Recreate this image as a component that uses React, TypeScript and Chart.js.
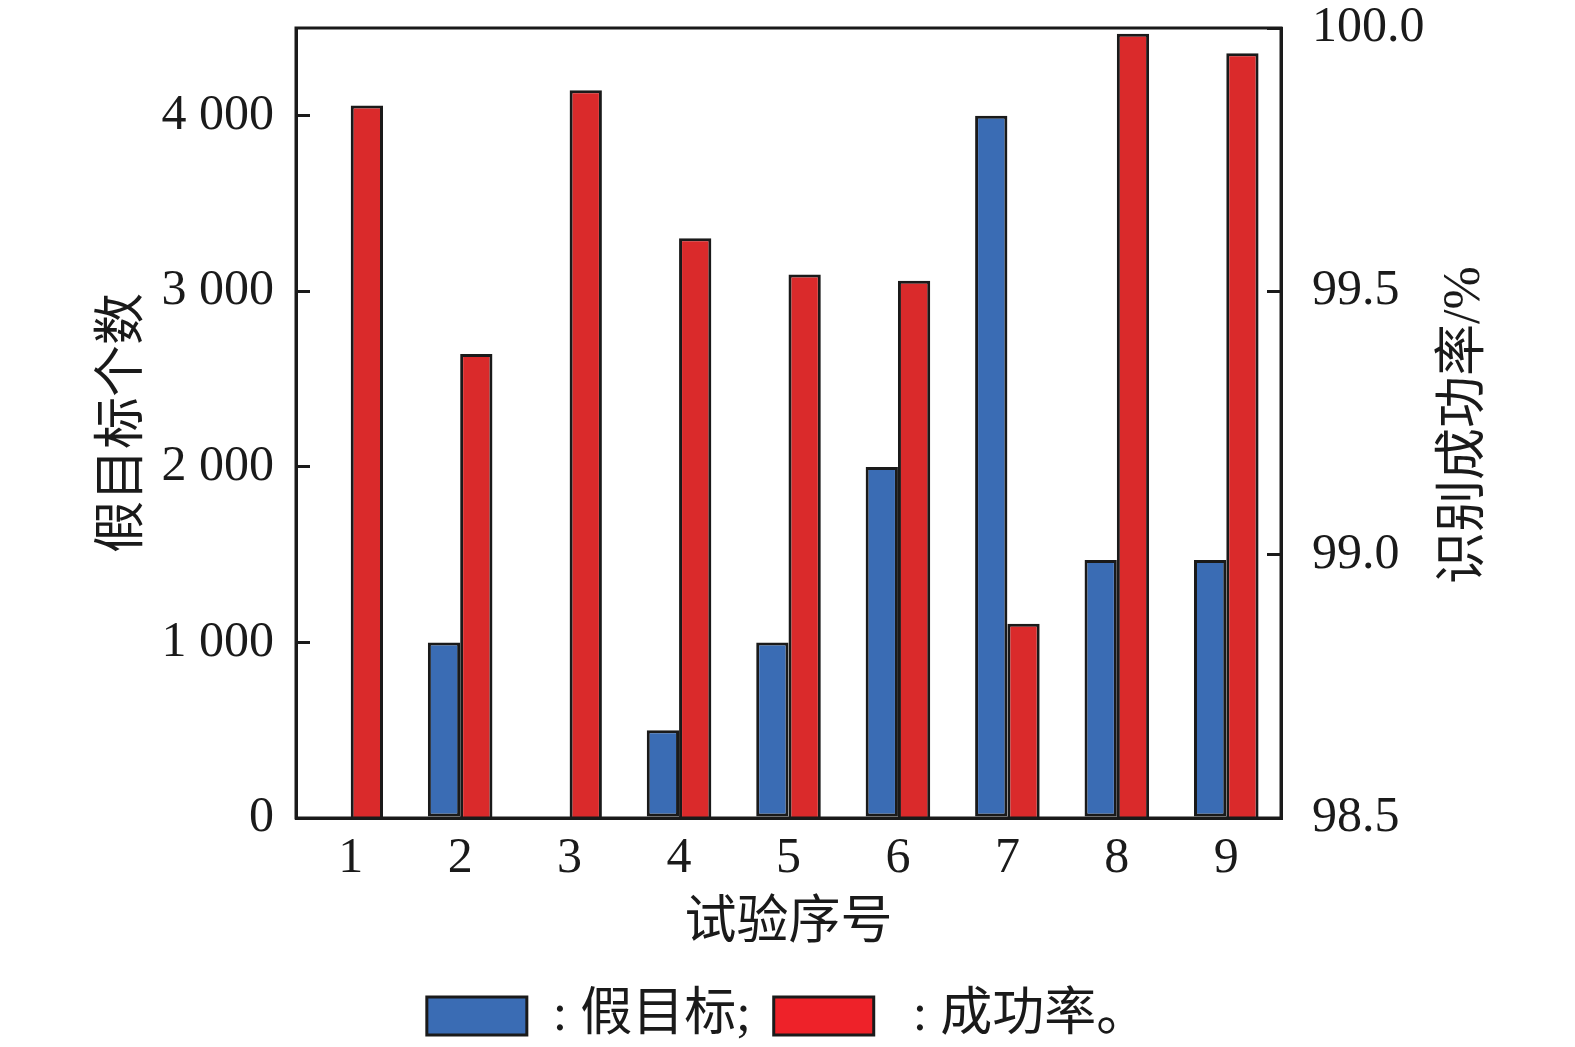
import { useEffect, useRef } from "react";
import { Chart, registerables } from "chart.js";
Chart.register(...registerables);

const trials = ["1", "2", "3", "4", "5", "6", "7", "8", "9"];
const falseTargets = [0, 1000, 0, 500, 1000, 2000, 4000, 1470, 1470];
const successRate = [99.853, 99.381, 99.882, 99.601, 99.532, 99.52, 98.869, 99.989, 99.952];
const countTicks = [0, 1000, 2000, 3000, 4000];
const rateTicks = [98.5, 99.0, 99.5, 100.0];
const legendTexts = [": 假目标; ", " : 成功率。"];

const BLUE = "#3a6cb4";
const RED = "#da2a2b";
const LEGEND_COLORS = ["#3a6cb4", "#ee2229"];
const INK = "#1a1a1a";
const FONT = "'Liberation Serif', 'Noto Sans CJK SC', serif";

const fmtCount = (v: number) =>
  v >= 1000 ? `${Math.floor(v / 1000)} ${String(v % 1000).padStart(3, "0")}` : String(v);

// frame round the plot area plus the right-hand title (reads bottom to top)
const framePlugin = {
  id: "frame",
  afterDraw(chart: Chart) {
    const { ctx, chartArea: a } = chart;
    ctx.save();
    ctx.strokeStyle = INK;
    ctx.lineWidth = 3;
    ctx.strokeRect(a.left, a.top, a.right - a.left, a.bottom - a.top);
    ctx.translate(1465, (a.top + a.bottom) / 2 + 2);
    ctx.rotate(-Math.PI / 2);
    ctx.fillStyle = INK;
    ctx.font = `52px ${FONT}`;
    ctx.textAlign = "center";
    ctx.textBaseline = "middle";
    ctx.fillText("识别成功率/%", 0, 0);
    ctx.restore();
  },
};

const App = () => {
  const canvasRef = useRef<HTMLCanvasElement>(null);

  useEffect(() => {
    document.body.style.margin = "0";
    const chart = new Chart(canvasRef.current!, {
      type: "bar",
      data: {
        labels: trials,
        datasets: [
          {
            data: falseTargets,
            yAxisID: "y",
            backgroundColor: BLUE,
            borderColor: INK,
            borderWidth: 3,
            borderSkipped: false,
            categoryPercentage: 0.59,
            barPercentage: 1.0,
          },
          {
            data: successRate,
            yAxisID: "y1",
            backgroundColor: RED,
            borderColor: INK,
            borderWidth: 3,
            borderSkipped: false,
            categoryPercentage: 0.59,
            barPercentage: 1.0,
          },
        ],
      },
      options: {
        responsive: true,
        maintainAspectRatio: false,
        animation: false,
        layout: { padding: { top: 0, left: 0, right: 0, bottom: -5 } },
        plugins: {
          tooltip: { enabled: false },
          legend: {
            position: "bottom",
            labels: {
              boxWidth: 100,
              boxHeight: 38,
              padding: 10,
              color: INK,
              font: { family: FONT, size: 52 },
              generateLabels: (c: Chart) =>
                c.data.datasets.map((_, i) => ({
                  text: legendTexts[i],
                  fillStyle: LEGEND_COLORS[i],
                  strokeStyle: INK,
                  lineWidth: 3,
                  hidden: false,
                  datasetIndex: i,
                  fontColor: INK,
                })),
            },
          },
        },
        scales: {
          x: {
            grid: { display: false },
            border: { display: true, color: INK, width: 3 },
            ticks: { color: INK, font: { family: FONT, size: 50 }, padding: 3 },
            title: {
              display: true,
              text: "试验序号",
              color: INK,
              font: { family: FONT, size: 52 },
              padding: { top: 0, bottom: 24 },
            },
            afterFit: (s: any) => {
              s.height = 162;
            },
          },
          y: {
            position: "left",
            min: 0,
            max: 4500,
            grid: { drawOnChartArea: false, drawTicks: true, tickLength: -14, color: INK, lineWidth: 3 },
            border: { display: true, color: INK, width: 3 },
            ticks: {
              color: INK,
              font: { family: FONT, size: 50 },
              padding: 36,
              callback: (v: any) => fmtCount(Number(v)),
            },
            afterBuildTicks: (s: any) => {
              s.ticks = countTicks.map((value) => ({ value }));
            },
            title: {
              display: true,
              text: "假目标个数",
              color: INK,
              font: { family: FONT, size: 52 },
              padding: { top: 93, bottom: 0 },
            },
            afterFit: (s: any) => {
              s.width = 296;
              s.paddingTop = 28;
            },
          },
          y1: {
            position: "right",
            min: 98.5,
            max: 100,
            grid: { drawOnChartArea: false, drawTicks: true, tickLength: -14, color: INK, lineWidth: 3 },
            border: { display: true, color: INK, width: 3 },
            ticks: {
              color: INK,
              font: { family: FONT, size: 50 },
              padding: 45,
              callback: (v: any) => Number(v).toFixed(1),
            },
            afterBuildTicks: (s: any) => {
              s.ticks = rateTicks.map((value) => ({ value }));
            },
            afterFit: (s: any) => {
              s.width = 294;
              s.paddingTop = 28;
            },
          },
        },
      },
      plugins: [framePlugin],
    });
    return () => chart.destroy();
  }, []);

  return (
    <div style={{ width: 1575, height: 1047, background: "#fff" }}>
      <canvas ref={canvasRef} />
    </div>
  );
};

export default App;
